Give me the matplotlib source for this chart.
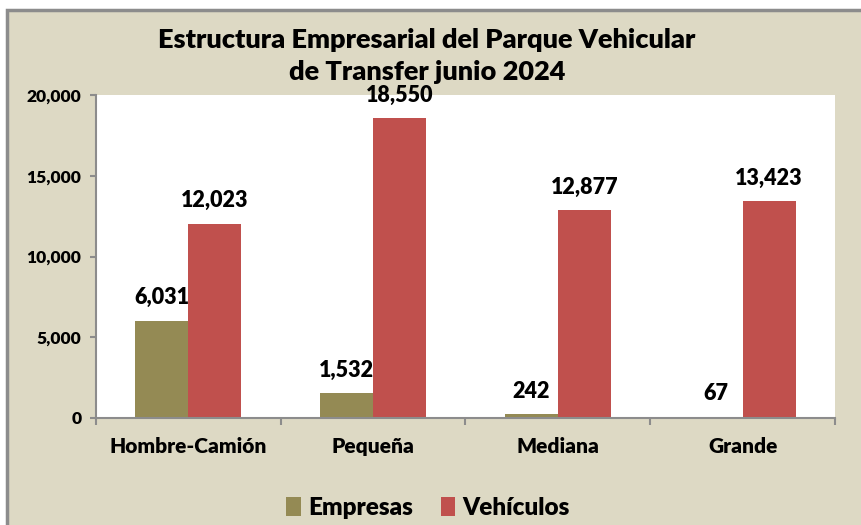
import numpy as np
import matplotlib.pyplot as plt
from matplotlib.patches import Rectangle

categories = ['Hombre-Camión', 'Pequeña', 'Mediana', 'Grande']
empresas = [6031, 1532, 242, 67]
vehiculos = [12023, 18550, 12877, 13423]
series_names = ['Empresas', 'Vehículos']
yticks = [0, 5000, 10000, 15000, 20000]

olive = '#948A54'
red = '#C0504D'
beige = '#DDD9C4'
gray = '#8C8C8C'

plt.rcParams['font.family'] = ['Lato', 'DejaVu Sans']
plt.rcParams['font.weight'] = 'heavy'

W, H = 862, 525
fig = plt.figure(figsize=(W / 100, H / 100), dpi=100)
fig.patch.set_facecolor('white')

# beige chart area with gray frame (only top/left edge inside the picture)
fig.patches.append(Rectangle((7 / W, -0.1), 1.2, 1.1 - 10 / H, transform=fig.transFigure,
                             facecolor=beige, edgecolor=gray, lw=2.5, zorder=-10))

ax = fig.add_axes([96 / W, (H - 418) / H, (835 - 96) / W, (418 - 95) / H])
ax.set_facecolor('white')

x = np.arange(len(categories))
bw = 0.287
b1 = ax.bar(x - bw / 2, empresas, bw, color=olive, label=series_names[0], zorder=2)
b2 = ax.bar(x + bw / 2, vehiculos, bw, color=red, label=series_names[1], zorder=2)

for bars in (b1, b2):
    for rect in bars:
        v = rect.get_height()
        ax.annotate(f'{v:,.0f}', (rect.get_x() + rect.get_width() / 2, v),
                    xytext=(0, 9), textcoords='offset points', ha='center',
                    va='bottom', fontsize=15.5, fontweight='heavy', color='black',
                    annotation_clip=False)

ax.set_ylim(0, 20000)
ax.set_xlim(-0.5, len(categories) - 0.5)
ax.set_yticks(yticks)
ax.set_yticklabels([f'{t:,}' for t in yticks], fontsize=12.5, fontweight='heavy')
ax.set_xticks(x)
ax.set_xticklabels(categories, fontsize=15, fontweight='heavy')
ax.tick_params(axis='x', length=0, pad=14)
ax.set_xticks(np.arange(-0.5, len(categories)), minor=True)
ax.tick_params(axis='x', which='minor', length=5, color=gray, width=1.5)
ax.tick_params(axis='y', length=4.5, color=gray, width=1.5, pad=6)

for s in ('top', 'right'):
    ax.spines[s].set_visible(False)
for s in ('left', 'bottom'):
    ax.spines[s].set_color(gray)
    ax.spines[s].set_linewidth(1.5)

fig.text(427 / W, 1 - 56 / H, 'Estructura Empresarial del Parque Vehicular\nde Transfer junio 2024',
         ha='center', va='center', fontsize=19.5, fontweight='heavy', linespacing=1.4)

fig.legend(handles=[b1, b2], loc='center', bbox_to_anchor=(428 / W, 1 - 508 / H),
           ncol=2, frameon=False, prop={'size': 17.5, 'weight': 'heavy'},
           handlelength=0.6, handleheight=0.8, handletextpad=0.3, columnspacing=1.15)

plt.savefig('out.png', dpi=100)
